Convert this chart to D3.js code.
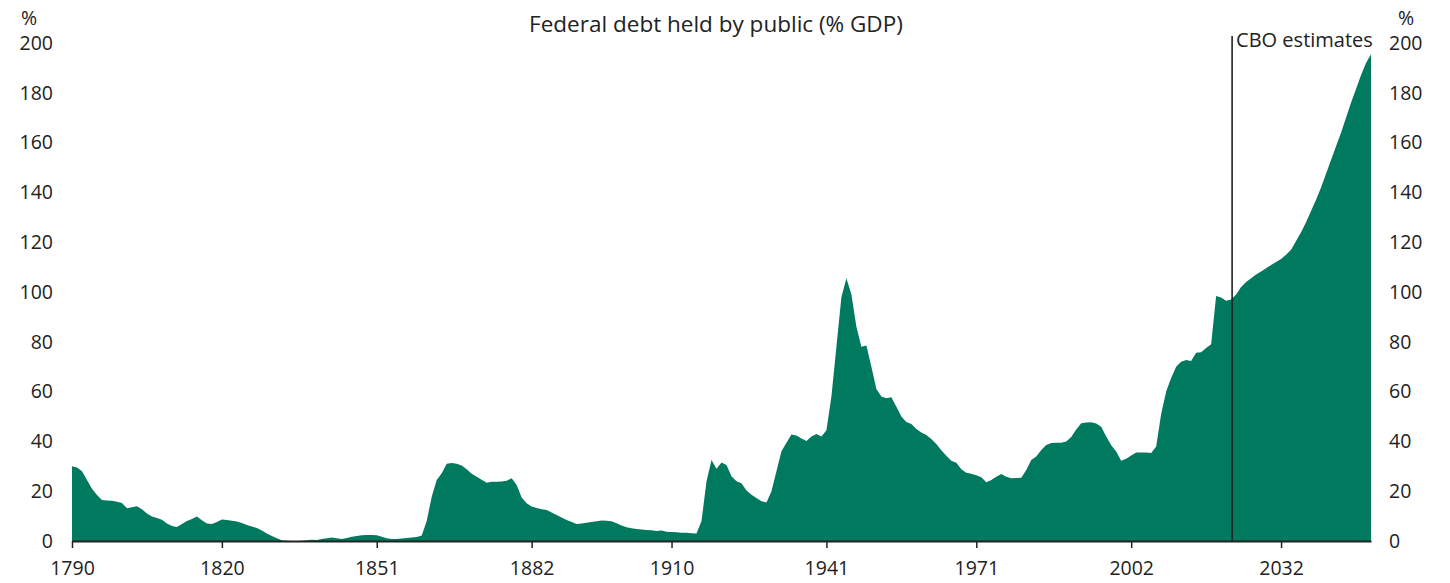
<!DOCTYPE html>
<html>
<head>
<meta charset="utf-8">
<script src="https://cdn.jsdelivr.net/npm/d3@7"></script>
<style>
  html, body { margin: 0; padding: 0; background: #fff; }
  svg { display: block; }
  text { font-family: "Open Sans", "Noto Sans", sans-serif; fill: #222; }
</style>
</head>
<body>
<svg id="chart" width="1450" height="583"></svg>
<script>
// ---- Data ----
const title = "Federal debt held by public (% GDP)";
const startYear = 1790;
const debtValues = [
  30, 29.5, 28, 24.5, 21, 18.5, 16.5, 16.3, 16.2, 15.8,          // 1790-1799
  15.3, 13.2, 13.6, 14, 12.8, 11, 9.8, 9.2, 8.5, 7,               // 1800-1809
  6, 5.6, 6.8, 8, 8.8, 9.8, 8.3, 7, 6.8, 7.6,                     // 1810-1819
  8.6, 8.4, 8.1, 7.8, 7.2, 6.4, 5.8, 5.2, 4.2, 3,                 // 1820-1829
  2, 1.1, 0.3, 0.1, 0.05, 0.05, 0.1, 0.3, 0.5, 0.4,               // 1830-1839
  0.8, 1.1, 1.4, 1.1, 0.8, 1.2, 1.7, 2.0, 2.3, 2.4,               // 1840-1849
  2.4, 2.3, 1.7, 1.1, 0.8, 0.8, 1.0, 1.2, 1.4, 1.6,               // 1850-1859
  2.2, 8, 17.8, 24.5, 27.2, 31, 31.3, 31, 30.3, 28.8,             // 1860-1869
  27, 25.8, 24.6, 23.4, 23.8, 23.8, 23.9, 24.2, 25.2, 22.5,       // 1870-1879
  17.5, 15.2, 13.9, 13.3, 12.8, 12.4, 11.4, 10.4, 9.4, 8.4,       // 1880-1889
  7.6, 6.8, 7, 7.3, 7.6, 7.9, 8.2, 8.1, 7.9, 7.1,                 // 1890-1899
  6.2, 5.5, 5.1, 4.8, 4.6, 4.4, 4.3, 4.0, 4.2, 3.7,               // 1900-1909
  3.6, 3.5, 3.3, 3.3, 3.1, 3.0, 8, 24, 32.5, 29,                  // 1910-1919
  31.5, 30.5, 26, 24, 23.2, 20.3, 18.6, 17.3, 16, 15.5,           // 1920-1929
  20, 28, 36, 39.5, 42.8, 42.4, 41.2, 40.2, 42, 43,               // 1930-1939
  42, 44.5, 58, 78, 98, 105.5, 99, 86, 78, 78.5,                  // 1940-1949
  70, 61, 58, 57.3, 57.7, 53.9, 50, 47.8, 47, 45,                 // 1950-1959
  43.6, 42.6, 41, 39, 36.4, 34.2, 32.2, 31.4, 28.8, 27.4,         // 1960-1969
  27, 26.4, 25.6, 23.6, 24.5, 25.8, 26.9, 25.8, 25.2, 25.3,       // 1970-1979
  25.4, 28.5, 32.5, 33.9, 36.5, 38.6, 39.4, 39.5, 39.5, 40,       // 1980-1989
  41.8, 44.8, 47.3, 47.6, 47.7, 47.2, 45.9, 42, 38.5, 35.9,       // 1990-1999
  32.2, 33, 34.3, 35.5, 35.5, 35.5, 35.3, 38, 51, 60,             // 2000-2009
  65.5, 70, 72, 72.7, 72.3, 75.6, 75.8, 77.5, 79, 98.4,           // 2010-2019
  97.8, 96.5, 97, 99, 102, 104, 105.5, 107, 108.2, 109.5,         // 2020-2029
  110.8, 112, 113.3, 115, 117, 120.5, 124, 128, 132.5, 137,       // 2030-2039
  142, 147.5, 153, 158.5, 164, 170, 176, 181.5, 187, 192,         // 2040-2049
  195.5                                                            // 2050
];
const years = debtValues.map((_, i) => startYear + i);
const xTickYears = [1790, 1820, 1851, 1882, 1910, 1941, 1971, 2002, 2032];
const yTicks = [0, 20, 40, 60, 80, 100, 120, 140, 160, 180, 200];
const cboYear = 2022.2;
const cboLabel = "CBO estimates";
const unitLabel = "%";

(function () {
  // ---- Layout ----
  const svg = d3.select("#chart");
  const mLeft = 72, mRight = 1371, mTop = 43, mBottom = 541;
  const fillColor = "#007a5f";
  const fontFam = "'Open Sans', 'Noto Sans', sans-serif";
  const labelSize = "19.5px";

  const x = d3.scaleLinear().domain([1790, 2050]).range([mLeft, mRight]);
  const y = d3.scaleLinear().domain([0, 200]).range([mBottom, mTop]);

  const data = years.map((yr, i) => ({ year: yr, value: debtValues[i] }));

  const area = d3.area()
    .x(d => x(d.year))
    .y0(y(0))
    .y1(d => y(d.value));

  svg.append("path")
    .datum(data)
    .attr("d", area)
    .attr("fill", fillColor);

  // X axis
  const xAxis = d3.axisBottom(x)
    .tickValues(xTickYears)
    .tickFormat(d3.format("d"))
    .tickSize(7)
    .tickSizeOuter(0);

  const gx = svg.append("g")
    .attr("transform", `translate(0,${mBottom})`)
    .call(xAxis);
  gx.select(".domain").attr("stroke", "#222").attr("stroke-width", 2);
  gx.selectAll(".tick line").attr("stroke", "#222").attr("stroke-width", 1.5);
  gx.selectAll(".tick text")
    .attr("dy", "0")
    .attr("y", 34)
    .style("font-size", labelSize)
    .style("font-family", fontFam)
    .attr("fill", "#222");

  // Left Y labels
  const gyl = svg.append("g")
    .attr("transform", `translate(${mLeft - 19},0)`)
    .call(d3.axisLeft(y).tickValues(yTicks).tickSize(0).tickPadding(0));
  gyl.select(".domain").remove();
  gyl.selectAll(".tick text")
    .style("font-size", labelSize)
    .style("font-family", fontFam)
    .attr("fill", "#222");

  // Right Y labels
  const gyr = svg.append("g")
    .attr("transform", `translate(${mRight + 18},0)`)
    .call(d3.axisRight(y).tickValues(yTicks).tickSize(0).tickPadding(0));
  gyr.select(".domain").remove();
  gyr.selectAll(".tick text")
    .style("font-size", labelSize)
    .style("font-family", fontFam)
    .attr("fill", "#222");

  // Unit labels
  svg.append("text").attr("x", 29).attr("y", 25)
    .attr("text-anchor", "middle").style("font-size", labelSize).text(unitLabel);
  svg.append("text").attr("x", 1406).attr("y", 25)
    .attr("text-anchor", "middle").style("font-size", labelSize).text(unitLabel);

  // Title
  svg.append("text").attr("x", 716).attr("y", 32)
    .attr("text-anchor", "middle").style("font-size", "22.5px").text(title);

  // CBO marker line
  svg.append("line")
    .attr("x1", x(cboYear)).attr("x2", x(cboYear))
    .attr("y1", 36).attr("y2", mBottom)
    .attr("stroke", "#222").attr("stroke-width", 1.6);
  svg.append("text")
    .attr("x", x(cboYear) + 4).attr("y", 47)
    .style("font-size", "20px").text(cboLabel);
})();
</script>
</body>
</html>
